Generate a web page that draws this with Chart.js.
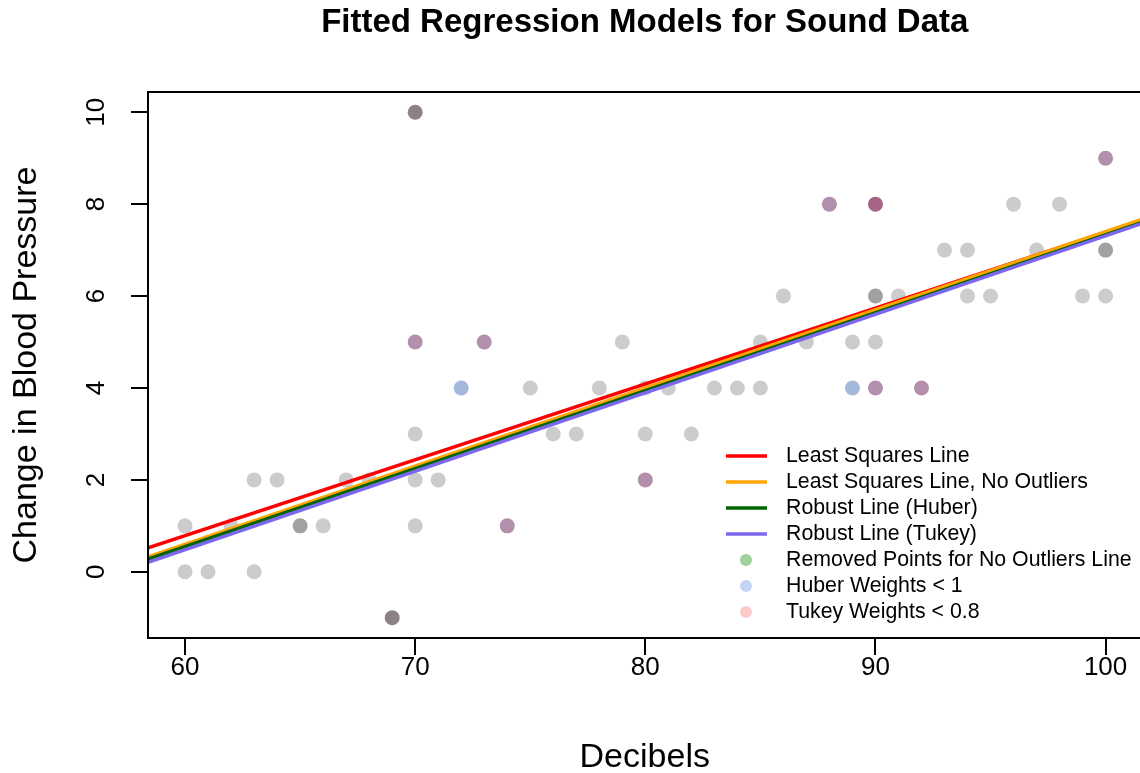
<!DOCTYPE html>
<html>
<head>
<meta charset="utf-8">
<script src="https://cdn.jsdelivr.net/npm/chart.js@4.4.1/dist/chart.umd.min.js"></script>
<style>
  html, body { margin:0; padding:0; background:#fff; overflow:hidden; }
  #wrap { width:1149px; height:773px; }
</style>
</head>
<body>
<div id="wrap"><canvas id="chart" width="1149" height="773"></canvas></div>
<script>
// observations (decibels vs change in blood pressure), grouped by how they were flagged
const decibels = [60,60,61,62,63,63,64,66,67,68,70,70,70,71,75,76,77,78,79,80,80,81,82,83,84,85,85,86,87,89,90,91,93,94,94,95,96,97,98,99,100,
  65,90,100,
  70,73,74,80,88,90,92,100,
  72,89,
  90,
  70,69];
const bpChange = [1,0,0,1,2,0,2,1,2,2,3,2,1,2,4,3,3,4,5,4,3,4,3,4,4,5,4,6,5,5,5,6,7,7,6,6,8,7,8,6,6,
  1,6,7,
  5,5,1,2,8,4,4,9,
  4,4,
  8,
  10,-1];
const pointGroup = [].concat(
  Array(41).fill('plain'),
  Array(3).fill('double'),
  Array(8).fill('tukey'),
  Array(2).fill('huber'),
  ['tukeyDouble'],
  Array(2).fill('removed')
);
const groupColors = {
  plain: '#cccccc', double: '#a1a1a1', tukey: '#b28fab', huber: '#a3b8da',
  tukeyDouble: '#a86484', removed: '#8c8285'
};

// fitted lines: [intercept, slope]
const fitNames = ['Least Squares Line', 'Least Squares Line, No Outliers', 'Robust Line (Huber)', 'Robust Line (Tukey)'];
const fitCoefs = [[-9.11, 0.165], [-9.60, 0.170], [-9.62, 0.1695], [-9.76, 0.1707]];
const fitColors = ['#ff0000', '#ffa500', '#006400', '#7b68ee'];

const pointLegendNames = ['Removed Points for No Outliers Line', 'Huber Weights < 1', 'Tukey Weights < 0.8'];
const pointLegendColors = ['#9dd29d', '#c3d4f5', '#fdcaca'];

const xTicks = [60, 70, 80, 90, 100];
const yTicks = [0, 2, 4, 6, 8, 10];
const xMin = 58.39, xMax = 101.56, yMin = -1.44, yMax = 10.44;

const FONT = '"Liberation Sans", Arial, sans-serif';

const fitSets = fitCoefs.map((c, i) => ({
  type: 'line',
  label: fitNames[i],
  data: [xMin, xMax].map(x => ({x: x, y: c[0] + c[1] * x})),
  borderColor: fitColors[i],
  borderWidth: 3.5,
  pointRadius: 0,
  order: 4 - i
}));

const frameAndLegend = {
  id: 'frameAndLegend',
  afterDraw(chart) {
    const {ctx, chartArea: a} = chart;
    ctx.save();
    ctx.strokeStyle = '#000';
    ctx.lineWidth = 2;
    ctx.strokeRect(a.left, a.top, a.right - a.left, a.bottom - a.top);

    ctx.fillStyle = '#000';
    ctx.font = 'bold 33px ' + FONT;
    ctx.textAlign = 'center';
    ctx.textBaseline = 'middle';
    ctx.fillText('Fitted Regression Models for Sound Data', (a.left + a.right) / 2, 23);

    // legend
    ctx.font = '21.3px ' + FONT;
    ctx.textAlign = 'left';
    let y = 456;
    fitNames.forEach((n, i) => {
      ctx.strokeStyle = fitColors[i];
      ctx.lineWidth = 3.5;
      ctx.beginPath(); ctx.moveTo(726, y); ctx.lineTo(767, y); ctx.stroke();
      ctx.fillStyle = '#000';
      ctx.fillText(n, 786, y);
      y += 26;
    });
    pointLegendNames.forEach((n, i) => {
      ctx.fillStyle = pointLegendColors[i];
      ctx.beginPath(); ctx.arc(746, y, 6, 0, Math.PI * 2); ctx.fill();
      ctx.fillStyle = '#000';
      ctx.fillText(n, 786, y);
      y += 26;
    });
    ctx.restore();
  }
};

new Chart(document.getElementById('chart'), {
  type: 'scatter',
  data: {
    datasets: [{
      type: 'scatter',
      label: 'Sound data',
      data: decibels.map((x, i) => ({x: x, y: bpChange[i]})),
      pointBackgroundColor: pointGroup.map(g => groupColors[g]),
      pointBorderWidth: 0,
      pointRadius: 7.5,
      order: 10
    }].concat(fitSets)
  },
  options: {
    responsive: false,
    animation: false,
    layout: { padding: { top: 92, right: 2, left: 0, bottom: 0 } },
    plugins: { legend: { display: false }, tooltip: { enabled: false }, title: { display: false } },
    scales: {
      x: {
        type: 'linear', min: xMin, max: xMax,
        afterBuildTicks: s => { s.ticks = xTicks.map(v => ({value: v})); },
        afterFit: s => { s.height = 135; s.paddingLeft = 0; s.paddingRight = 0; },
        grid: { drawOnChartArea: false, tickLength: 17, color: '#000', lineWidth: 2 },
        border: { display: false },
        ticks: { color: '#000', font: { family: FONT, size: 26, lineHeight: 1 }, padding: 0, maxRotation: 0 },
        title: { display: true, text: 'Decibels', color: '#000', font: { family: FONT, size: 34, lineHeight: 1 }, padding: { top: 0, bottom: -2 } }
      },
      y: {
        type: 'linear', min: yMin, max: yMax,
        afterBuildTicks: s => { s.ticks = yTicks.map(v => ({value: v})); },
        afterFit: s => { s.width = 148; s.paddingTop = 0; s.paddingBottom = 0; },
        grid: { drawOnChartArea: false, tickLength: 17, color: '#000', lineWidth: 2 },
        border: { display: false },
        ticks: { color: '#000', font: { family: FONT, size: 26, lineHeight: 1 }, padding: 20, minRotation: 90, maxRotation: 90, crossAlign: 'center' },
        title: { display: true, text: 'Change in Blood Pressure', color: '#000', font: { family: FONT, size: 34, lineHeight: 1 }, padding: { top: 10, bottom: 0 } }
      }
    }
  },
  plugins: [frameAndLegend]
});
</script>
</body>
</html>
